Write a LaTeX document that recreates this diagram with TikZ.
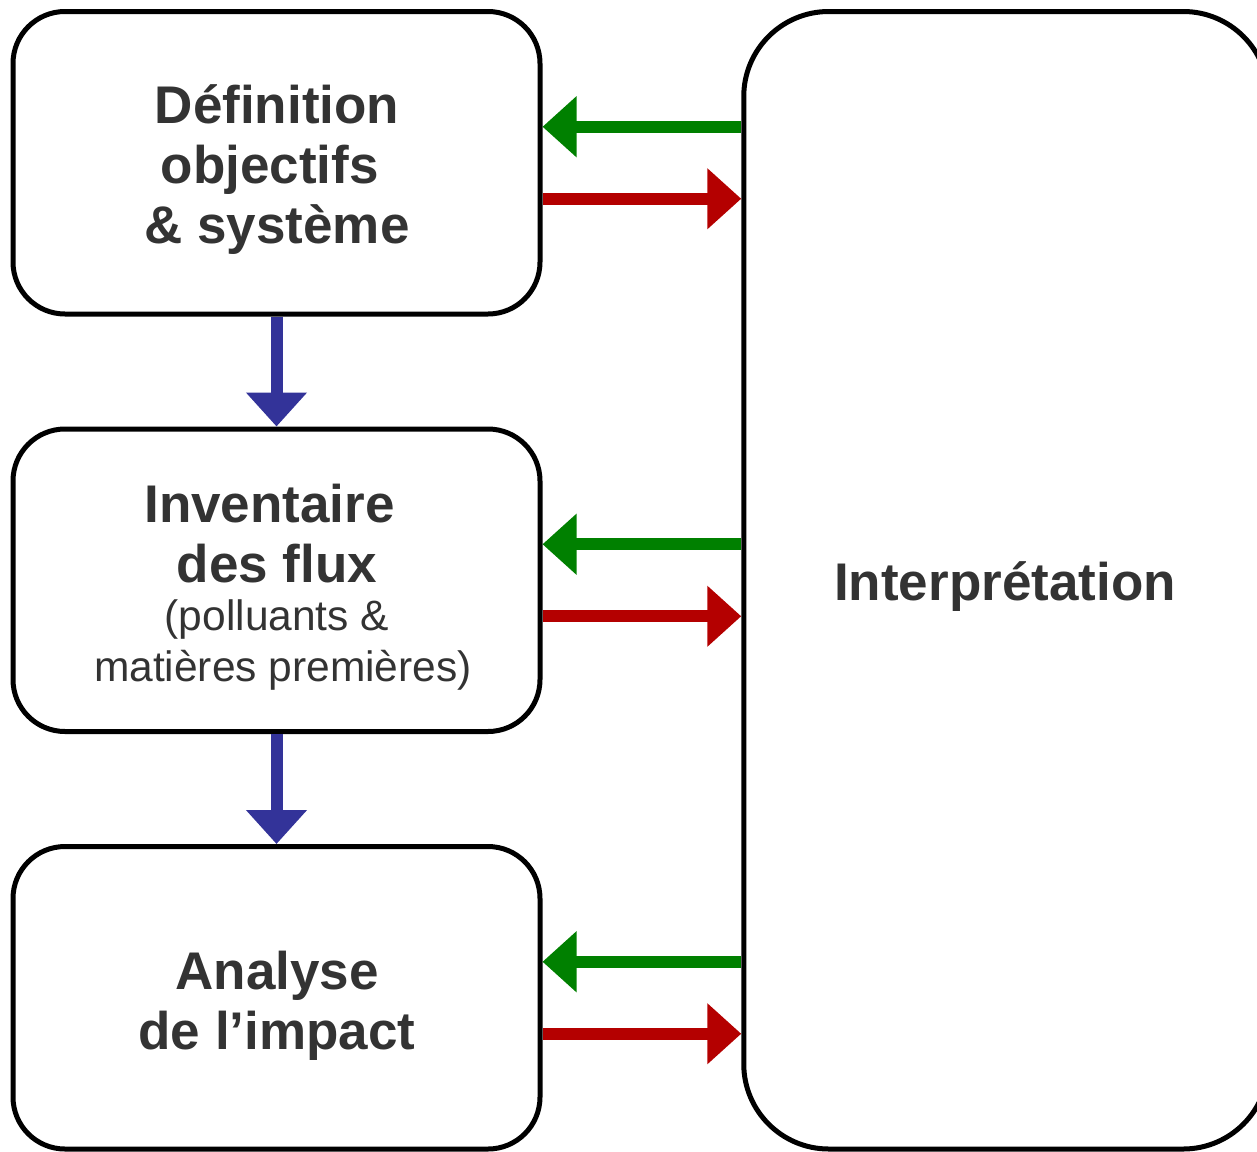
\documentclass[tikz,border=0pt]{standalone}
\usepackage{fontspec}
\setmainfont{Liberation Sans}
\usetikzlibrary{arrows.meta,calc}
\definecolor{ink}{HTML}{333333}
\definecolor{backgreen}{HTML}{008000}
\definecolor{forthred}{HTML}{B40000}
\definecolor{stageblue}{HTML}{333399}
\begin{document}
\begin{tikzpicture}[x=1pt,y=-1pt,
  stage/.style={draw=black,line width=5pt,rounded corners=52pt,
    minimum width=527pt,minimum height=302.5pt,inner sep=0pt,outer sep=2.5pt},
  big/.style={font=\bfseries\fontsize{53}{60}\selectfont,text=ink,anchor=base,inner sep=0pt},
  small/.style={font=\fontsize{42.5}{48}\selectfont,text=ink,anchor=base,inner sep=0pt},
  flow/.style={line width=12pt,-{Triangle[length=34pt,width=59pt]}},
]
\useasboundingbox (0,0) rectangle (1257,1151);
\clip (0,0) rectangle (1257,1151);

% the three stages on the left and the interpretation column
\node[stage] (b1) at (276.5,162.75) {};
\node[stage] (b2) at (276.5,580.25) {};
\node[stage] (b3) at (276.5,997.75) {};
\node[stage,rounded corners=85pt,minimum width=524.5pt,minimum height=1137.5pt] (rb) at (1006,580.25) {};

% labels
\node[big] (t1a) at (277,123) {Définition};
\node[big] (t1b) at (277,183) {objectifs\hspace*{.28em}};
\node[big] (t1c) at (277,243) {\& système};
\node[big] (t2a) at (277,522) {Inventaire\hspace*{.28em}};
\node[big] (t2b) at (277,582) {des flux};
\node[small] (t2c) at (277,630) {(polluants \&};
\node[small] (t2d) at (277,681) {\hspace*{.28em}matières premières)};
\node[big] (t3a) at (277,989) {Analyse};
\node[big] (t3b) at (277,1049) {de l’impact};
\node[big] (ti) at (1005,600) {Interprétation};

% exchange points on each stage
\foreach \b in {b1,b2,b3}{
  \coordinate (g\b) at ($(\b.east)+(0,-36)$);
  \coordinate (r\b) at ($(\b.east)+(0,36)$);
}

% feedback (green) and forward (red) arrows
\foreach \b in {b1,b2,b3}{
  \draw[flow,backgreen] (rb.west |- g\b) -- (g\b);
  \draw[flow,forthred] (r\b) -- (rb.west |- r\b);
}

% sequence between stages
\draw[flow,stageblue] (b1.south) -- (b2.north);
\draw[flow,stageblue] (b2.south) -- (b3.north);
\end{tikzpicture}
\end{document}
